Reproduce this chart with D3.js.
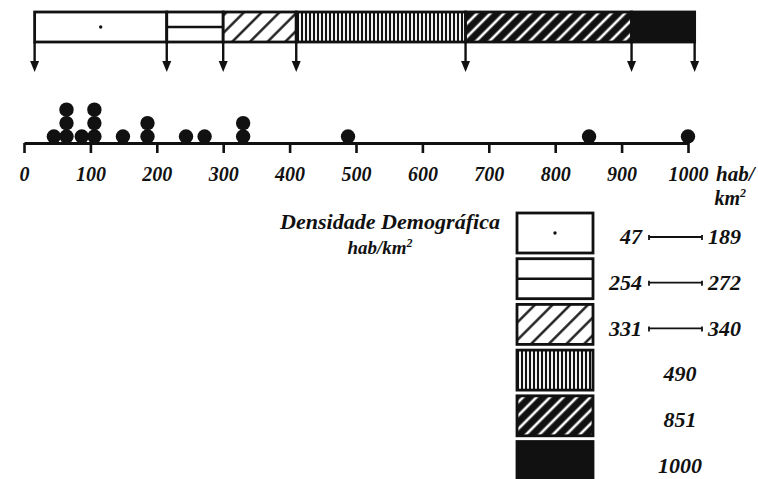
<!DOCTYPE html>
<html>
<head>
<meta charset="utf-8">
<script src="https://cdn.jsdelivr.net/npm/d3@7"></script>
<style>
    body { margin: 0; background: #fff; }
    text { font-family: "Liberation Serif", "DejaVu Serif", serif; font-weight: bold; font-style: italic; fill: #111; }
</style>
</head>
<body>
<div class="container"></div>
<script>
const WIDTH = 758,
    HEIGHT = 479,
    AXIS_Y = 143,
    BAR_TOP = 12,
    BAR_BOTTOM = 42,
    INK = '#111';

// data
const axisTicks = [0, 100, 200, 300, 400, 500, 600, 700, 800, 900, 1000];
const dotValues = [45, 64, 87, 106, 149, 186, 244, 272, 330, 488, 851, 1000];
const dotCounts = [1, 3, 1, 3, 1, 2, 1, 1, 2, 1, 1, 1];
const classBreaks = [16, 215, 300, 410, 665, 915, 1010];
const classFills = ['dot', 'hline', 'hatch', 'vlines', 'darkHatch', 'solid'];
const legendFrom = ['47', '254', '331', '', '', ''];
const legendTo = ['189', '272', '340', '490', '851', '1000'];
const legendTitle = ['Densidade Demográfica', 'hab/km'];
const axisUnit = ['hab/', 'km'];

const x = d3.scaleLinear()
    .domain([0, 1000])
    .range([24, 688]);

const legendY = d3.scaleBand()
    .domain(d3.range(classFills.length))
    .range([213, 481.5])
    .paddingInner(0.125);

var svg = d3.select('.container').append('svg')
    .attr('width', WIDTH)
    .attr('height', HEIGHT);

svg.append('rect').attr('width', WIDTH).attr('height', HEIGHT).attr('fill', '#fff');

var defs = svg.append('defs');

var addStripes = (id, size, angle, bg, fg, width) => {
    var p = defs.append('pattern')
        .attr('id', id)
        .attr('patternUnits', 'userSpaceOnUse')
        .attr('width', size)
        .attr('height', size)
        .attr('patternTransform', `rotate(${angle})`);
    p.append('rect').attr('width', size).attr('height', size).attr('fill', bg);
    p.append('line')
        .attr('x1', size / 2).attr('x2', size / 2)
        .attr('y1', -1).attr('y2', size + 1)
        .attr('stroke', fg)
        .attr('stroke-width', width);
}

addStripes('hatch', 12.5, 45, '#fff', INK, 2.3);
addStripes('vlines', 4, 0, '#fff', INK, 2.1);
addStripes('darkHatch', 9.5, 45, INK, '#fff', 2.6);

var fillFor = (name) => {
    if (name === 'solid') return INK;
    if (name === 'dot' || name === 'hline') return '#fff';
    return `url(#${name})`;
}

// draws one patterned box with its extra marks
var drawBox = (g, name, x0, y0, w, h) => {
    g.append('rect')
        .attr('x', x0).attr('y', y0)
        .attr('width', w).attr('height', h)
        .attr('fill', fillFor(name))
        .attr('stroke', INK)
        .attr('stroke-width', 2.8);
    if (name === 'dot') {
        g.append('circle')
            .attr('cx', x0 + w / 2).attr('cy', y0 + h / 2)
            .attr('r', 1.7).attr('fill', INK);
    }
    if (name === 'hline') {
        g.append('line')
            .attr('x1', x0).attr('x2', x0 + w)
            .attr('y1', y0 + h / 2).attr('y2', y0 + h / 2)
            .attr('stroke', INK).attr('stroke-width', 2.4);
    }
}

// top class bar
var bar = svg.append('g').classed('bar', true);
classFills.forEach((name, i) => {
    var x0 = x(classBreaks[i]), x1 = x(classBreaks[i + 1]);
    drawBox(bar, name, x0, BAR_TOP, x1 - x0, BAR_BOTTOM - BAR_TOP);
});

var arrows = svg.append('g').classed('arrows', true);
arrows.selectAll('line')
    .data(classBreaks)
    .enter().append('line')
    .attr('x1', (d) => x(d)).attr('x2', (d) => x(d))
    .attr('y1', BAR_BOTTOM).attr('y2', 64)
    .attr('stroke', INK)
    .attr('stroke-width', 2.4);
arrows.selectAll('path')
    .data(classBreaks)
    .enter().append('path')
    .attr('d', (d) => `M${x(d) - 4.5},61 L${x(d) + 4.5},61 L${x(d)},72 Z`)
    .attr('fill', INK);

// axis
var axis = d3.axisBottom(x)
    .tickValues(axisTicks)
    .tickSize(10)
    .tickSizeOuter(0)
    .tickFormat(d3.format('d'));

var axisG = svg.append('g')
    .attr('transform', `translate(0,${AXIS_Y})`)
    .call(axis);

axisG.attr('font-family', null).attr('font-size', null);
axisG.select('.domain').attr('stroke', INK).attr('stroke-width', 2.8);
axisG.selectAll('.tick line').attr('stroke', INK).attr('stroke-width', 2.6);
axisG.selectAll('.tick text')
    .attr('y', 38)
    .attr('dy', 0)
    .attr('font-size', 20)
    .attr('fill', INK);

var unit = svg.append('g').classed('unit', true);
unit.append('text')
    .attr('x', 716).attr('y', 181)
    .attr('font-size', 21)
    .text(axisUnit[0]);
unit.append('text')
    .attr('x', 746).attr('y', 205)
    .attr('text-anchor', 'end')
    .attr('font-size', 20)
    .text(axisUnit[1])
    .append('tspan')
    .attr('dy', -8)
    .attr('font-size', 12)
    .text('2');

// stacked dots
var dots = [];
dotValues.forEach((v, i) => {
    d3.range(dotCounts[i]).forEach((k) => dots.push({ v: v, k: k }));
});

svg.append('g').classed('dots', true)
    .selectAll('circle')
    .data(dots)
    .enter().append('circle')
    .attr('cx', (d) => x(d.v))
    .attr('cy', (d) => AXIS_Y - 6.5 - d.k * 13.4)
    .attr('r', 7.2)
    .attr('fill', INK);

// legend
var legend = svg.append('g').classed('legend', true);
legend.append('text')
    .attr('x', 280).attr('y', 229)
    .attr('font-size', 21)
    .attr('textLength', 220)
    .attr('lengthAdjust', 'spacingAndGlyphs')
    .text(legendTitle[0]);
legend.append('text')
    .attr('x', 380).attr('y', 254)
    .attr('text-anchor', 'middle')
    .attr('font-size', 19)
    .text(legendTitle[1])
    .append('tspan')
    .attr('dy', -7)
    .attr('font-size', 12)
    .text('2');

classFills.forEach((name, i) => {
    var y0 = legendY(i), h = legendY.bandwidth(), cy = y0 + h / 2 + 4;
    drawBox(legend, name, 517, y0, 76, h);
    if (legendFrom[i]) {
        legend.append('text')
            .attr('x', 642).attr('y', cy).attr('dy', '0.33em')
            .attr('text-anchor', 'end')
            .attr('font-size', 22)
            .text(legendFrom[i]);
        legend.append('line')
            .attr('x1', 649).attr('x2', 702)
            .attr('y1', cy).attr('y2', cy)
            .attr('stroke', INK).attr('stroke-width', 1.8);
        [649, 702].forEach((lx) => legend.append('line')
            .attr('x1', lx).attr('x2', lx)
            .attr('y1', cy - 2).attr('y2', cy + 3)
            .attr('stroke', INK).attr('stroke-width', 1.8));
        legend.append('text')
            .attr('x', 708).attr('y', cy).attr('dy', '0.33em')
            .attr('font-size', 22)
            .text(legendTo[i]);
    } else {
        legend.append('text')
            .attr('x', 680).attr('y', cy).attr('dy', '0.33em')
            .attr('text-anchor', 'middle')
            .attr('font-size', 22)
            .text(legendTo[i]);
    }
});
</script>
</body>
</html>
